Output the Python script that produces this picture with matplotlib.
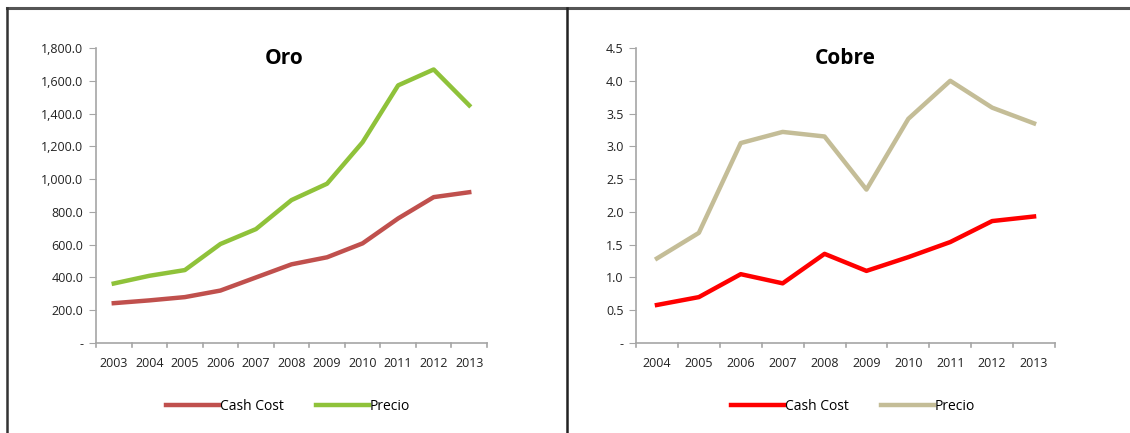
import matplotlib.pyplot as plt
from matplotlib.lines import Line2D
from matplotlib.ticker import FuncFormatter

plt.rcParams['font.family'] = ['Open Sans', 'DejaVu Sans']

# Oro (gold)
oro_years = ['2003', '2004', '2005', '2006', '2007', '2008', '2009', '2010', '2011', '2012', '2013']
oro_cash_cost = [243, 260, 280, 320, 400, 480, 523, 608, 760, 890, 920]
oro_precio = [363, 410, 445, 604, 695, 872, 972, 1225, 1572, 1669, 1450]

# Cobre (copper)
cobre_years = ['2004', '2005', '2006', '2007', '2008', '2009', '2010', '2011', '2012', '2013']
cobre_cash_cost = [0.58, 0.70, 1.05, 0.91, 1.36, 1.10, 1.31, 1.54, 1.86, 1.93]
cobre_precio = [1.29, 1.68, 3.05, 3.22, 3.15, 2.34, 3.42, 4.00, 3.59, 3.35]

W, H = 1130, 433
fig = plt.figure(figsize=(W / 100, H / 100), dpi=100)


def px(x0, y0, x1, y1):
    return [x0 / W, 1 - y1 / H, (x1 - x0) / W, (y1 - y0) / H]


def style_axis(ax, n, ymax, step, fmt):
    ax.set_xlim(-0.5, n - 0.5)
    ax.set_ylim(0, ymax)
    ax.set_yticks([i * step for i in range(int(round(ymax / step)) + 1)])
    ax.yaxis.set_major_formatter(FuncFormatter(fmt))
    for s in ['top', 'right']:
        ax.spines[s].set_visible(False)
    for s in ['left', 'bottom']:
        ax.spines[s].set_color('#a6a6a6')
        ax.spines[s].set_linewidth(1.2)
    ax.tick_params(axis='y', length=5, color='#a6a6a6', labelsize=9, pad=4, labelcolor='#222222')
    ax.tick_params(axis='x', length=0, labelsize=9, pad=10, labelcolor='#222222')
    # category separators on the x axis
    for i in range(n + 1):
        ax.plot([i - 0.5, i - 0.5], [0, -ymax * 0.015], color='#a6a6a6', lw=1.2, clip_on=False)


def fmt_oro(v, _):
    return '-' if v == 0 else f'{v:,.1f}'


def fmt_cobre(v, _):
    return '-' if v == 0 else f'{v:.1f}'


# left panel
ax1 = fig.add_axes(px(96, 48, 487, 343))
x1 = range(len(oro_years))
ax1.plot(x1, oro_cash_cost, color='#c0504d', lw=3.2, solid_joinstyle='round')
ax1.plot(x1, oro_precio, color='#8fc23a', lw=3.2, solid_joinstyle='round')
ax1.set_xticks(list(x1))
ax1.set_xticklabels(oro_years)
style_axis(ax1, len(oro_years), 1800, 200, fmt_oro)
ax1.text(0.48, 1 - 10 / 295, 'Oro', transform=ax1.transAxes, ha='center', va='center',
         fontsize=15, fontweight='bold')

# right panel
ax2 = fig.add_axes(px(636, 48, 1055, 343))
x2 = range(len(cobre_years))
ax2.plot(x2, cobre_cash_cost, color='#ff0000', lw=3.2, solid_joinstyle='round')
ax2.plot(x2, cobre_precio, color='#c4bd97', lw=3.2, solid_joinstyle='round')
ax2.set_xticks(list(x2))
ax2.set_xticklabels(cobre_years)
style_axis(ax2, len(cobre_years), 4.5, 0.5, fmt_cobre)
ax2.text(0.5, 1 - 10 / 295, 'Cobre', transform=ax2.transAxes, ha='center', va='center',
         fontsize=15, fontweight='bold')

# legends
for ax, cols, cx in [(ax1, ['#c0504d', '#8fc23a'], 288 / W), (ax2, ['#ff0000', '#c4bd97'], 853 / W)]:
    handles = [Line2D([], [], color=c, lw=3.2) for c in cols]
    fig.legend(handles, ['Cash Cost', 'Precio'], loc='center', bbox_to_anchor=(cx, 1 - 406 / H),
               ncol=2, frameon=False, fontsize=10, handlelength=3.8, handletextpad=0.1,
               columnspacing=2.3)

# panel frames
fig.add_artist(Line2D([7 / W, 1], [1 - 8 / H, 1 - 8 / H], color='#555555', lw=2.2))
fig.add_artist(Line2D([7 / W, 7 / W], [0, 1 - 8 / H], color='#333333', lw=1.8))
fig.add_artist(Line2D([567 / W, 567 / W], [0, 1 - 8 / H], color='#222222', lw=1.8))

fig.savefig('out.png', dpi=100)
